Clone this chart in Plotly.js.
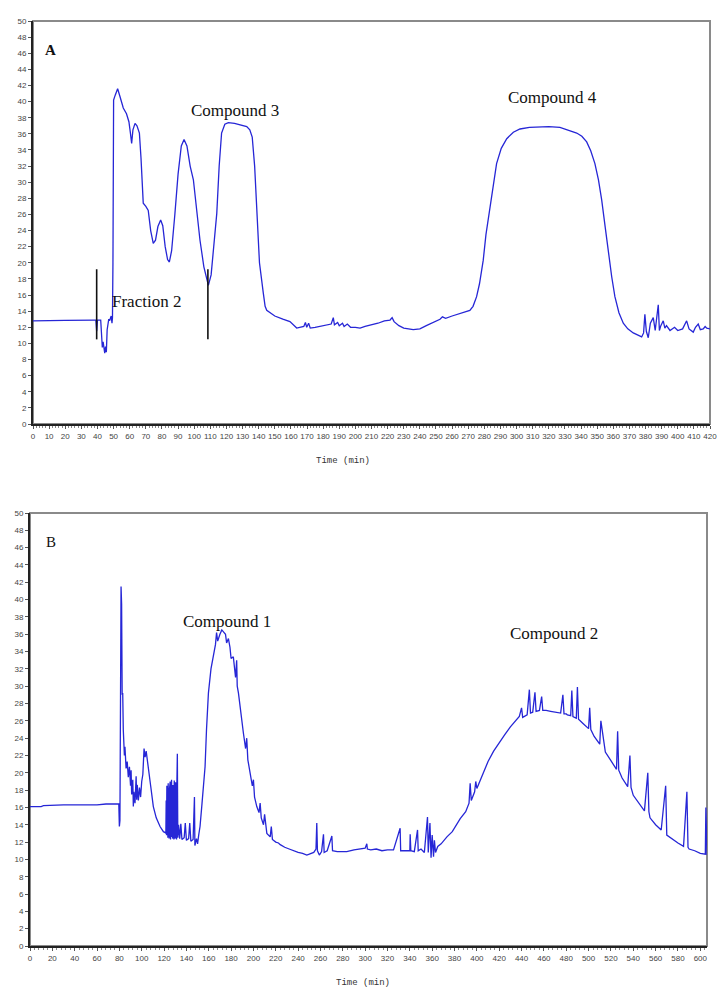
<!DOCTYPE html>
<html>
<head>
<meta charset="utf-8">
<script src="https://cdn.plot.ly/plotly-3.0.1.min.js"></script>
<style>
  body { margin: 0; background: #fff; }
  #graph { width: 728px; height: 998px; }
</style>
</head>
<body>
<div id="graph"></div>
<script>
//////////////////Data////////////////////////////////////////////////
// Panel A : fraction chromatogram, 0-420 min
var timeA = [0,18,20,38,39,39.5,40,42,42.5,43,43.5,44,44.5,45,45.5,46,46.5,47,47.5,48,48.5,49,49.3,49.6,49.8,
  50,51,52.5,54,56,58,59.5,60.5,61.2,62,63.3,64.5,66,67,68.4,70,71.5,73,74.6,76,77.5,79.2,80.5,82,83.5,84.6,
  86,88,90,92,93.7,95.5,97.5,99.5,101.5,103.6,106,108.8,110.5,112,114,115.5,117,119,121.2,125,129,132.6,134.5,
  136,137.5,138.8,140.5,142.9,144,145,147,150,155,159.4,163.6,166,168,169,169.8,171,172,175,180,183,185,186.3,
  187,189,190,192,193,195,197,200,202.9,206,210,214,218,221.5,222.8,224,227,230,235.9,240,244,248,252.5,254,
  256,260,265,269,271,273,275.2,277,279.3,281,283.5,285.5,287.6,290.5,293.9,298,302.1,308,314.5,320,326.9,332,
  337.3,340.5,343.5,346,348.6,350.8,352.8,355,356.9,359,361,363.5,366.2,369,372.4,375,377.6,378.8,379.6,380.5,
  381.7,383,384.8,386,387.9,388.6,389.5,391,392,393,395.2,398,400,403,405.5,407,409.6,411,412.7,414,415.8,417,418,420]
var signalA = [12.8,12.8,12.85,12.9,12.9,11.5,12.9,12.9,10.5,9.5,10.2,9.0,8.8,9.6,8.9,11.7,12.5,13.0,12.8,13.3,13.4,12.5,13.2,20,30,
  40.2,40.8,41.6,40.6,39.2,38.5,37.5,36,34.8,36.5,37.3,37.0,36.1,33,27.4,27.0,26.5,24,22.4,22.8,24.5,25.3,24.6,22,20.4,20.1,
  21.5,26,31,34.5,35.3,34.5,32,30.3,26.5,22.8,19.5,17.2,18.5,21.5,26.1,32,36.1,37.2,37.4,37.3,37.1,36.9,36.5,
  35.6,32,26.1,20,16.2,14.6,14.1,13.8,13.4,13.0,12.7,11.9,12.0,12.1,12.6,12.0,12.5,11.9,12.0,12.2,12.3,12.4,13.2,
  12.3,12.6,12.2,12.5,12.1,12.4,12.0,12.0,11.9,12.1,12.3,12.5,12.8,12.9,13.2,12.7,12.2,11.9,11.7,11.8,12.2,12.6,13.0,13.3,
  13.1,13.4,13.7,13.9,14.1,14.6,15.8,17.4,20.3,23.5,27,30,32.3,34.2,35.4,36.2,36.6,36.8,36.9,36.9,36.8,36.5,
  36.1,35.7,35.0,33.9,32.3,30.3,27.8,24.4,21.2,18.3,15.8,13.8,12.5,11.8,11.3,11.0,10.8,11.3,13.6,11.5,
  10.7,12.5,13.2,11.6,14.8,11.6,12.2,12.8,11.9,12.2,11.6,12.0,11.6,11.8,12.8,11.8,11.4,12.0,12.4,11.7,11.8,12.1,11.9,11.8]

// fraction cut marks in panel A
var cutTimes = [39.5, 108.5]
var cutLow = 10.5, cutHigh = 19.2

// Panel B : crude extract chromatogram, 0-606 min
var timeB = [0,10,12,30,60,68,79.5,80,80.5,81,81.5,82,82.5,83,83.5,84,84.5,85,86,87,88,89,90,90.5,91,92,92.5,93,94,95,
  95.5,96,97,98,99,100,101,102.1,103,104,106,108,110.4,113,116.4,119.4,
  121,121.3,121.6,121.9,122.2,122.5,122.8,123.1,123.4,123.7,124,124.3,124.6,124.9,125.2,125.5,125.8,126.1,126.4,126.7,
  127,127.3,127.6,127.9,128.2,128.5,128.8,129.1,129.4,129.7,130,130.3,130.6,130.9,131.2,131.5,131.9,132.3,
  133,134,135,136,138,139,140,142,143,
  144,146,147.2,147.6,149,150,151,152.2,154,156.7,158,159.7,162,164.2,166,167,168,170,171.7,173,175,176,177.6,179,
  180,182,184,185,185.5,186.6,189,191,193,194,195,197,199,200,201,203,205,206,207,209,210,212,215,216,217,220,222.4,
  224,228,232,236,240,244,247.8,250,254,256,256.7,257.3,259,261,262.7,263.3,266,270.2,270.8,275,280,283.6,290,295,
  300,301.5,302,305,310,315,320,325.4,331.3,331.8,335,340,340.3,340.9,344,346.9,347.5,350,353,355.8,356.5,358,359,
  360,361.2,362,363,365,368,373.2,378,381,385.1,390,393,394,395,398,399,400,405,410,415,420,425,430,435,438,440,
  441,445,447,448,450,452,453,456,458,459,462,466,470,475,477,478,480,481,484,485,486,489,490,491,495,500,501,502,
  505,510,511,515,520,525,526,527,530,535,537,538,540,545,550,553,554,555,560,565,569,570,575,580,585,588,589,590,
  595,600,604.5,605,606]
var signalB = [16.1,16.1,16.2,16.3,16.3,16.4,16.4,13.8,14.5,28,41.5,39.5,29,29.2,25,23.8,22.0,23.0,20.5,21.3,19.5,20.7,18.5,20.3,17.5,19.2,16.1,17.8,16.5,19.6,
  16.9,18.6,16.8,18.3,17.2,19.0,19.8,22.8,21.8,22.5,20.7,18.5,16.1,14.8,13.8,13.2,
  13.1,15,13,16.8,12.8,18.5,12.8,17.2,12.5,18.8,12.6,16.5,12.4,18.2,12.7,19,12.3,17.5,12.6,19.2,
  12.5,17.8,12.4,18.6,12.7,16.9,12.3,19.1,12.5,17.6,12.4,18.9,12.6,17.2,12.3,19.0,22.2,12.5,
  14,12.4,14.1,12.3,12.5,14.2,12.2,12.4,14.2,
  12.1,12.3,17.2,11.6,12.4,11.8,12.8,13.8,16.5,20.7,25,29.2,32,33.8,34.8,36.2,35.2,36,36.5,36.3,36.0,35,35.5,34.5,
  33.2,33.4,31,33,30,29.2,26.5,24.6,22.8,24,21.5,19.9,18.5,19.2,17.2,16.1,15.4,16.5,14.8,14.0,15.2,13.0,12.6,13.8,12.3,12.0,11.9,
  11.7,11.4,11.2,11.0,10.8,10.7,10.5,10.6,10.8,11.2,14.2,11.0,10.5,10.9,12.9,10.8,11.0,12.7,11.0,10.9,10.9,10.9,11.1,11.2,
  11.3,11.8,11.2,11.1,11.2,11.0,11.1,11.1,13.6,11.0,11.0,11.0,12.9,11.0,10.9,13.4,11.0,11.2,10.8,14.9,10.8,14.2,10.2,
  12.8,10.3,12.2,10.8,11.5,11.8,12.6,13.2,13.8,14.7,15.5,16.5,18.8,16.8,17.8,19,18.2,19.8,21.3,22.5,23.5,24.4,25.3,26,26.5,27.5,
  26.4,26.7,29.6,26.9,27.0,29.3,27.1,27.2,28.8,27.2,27.2,27.1,27.0,26.9,29.0,26.8,26.8,26.7,26.6,29.5,26.5,26.3,29.9,26.2,25.7,25.1,27.5,25.0,
  24.2,23.3,26.0,22.4,21.4,20.4,24.8,20.3,19.4,18.4,22.0,18.3,17.4,16.5,15.6,20.0,15.5,14.8,14.0,13.4,18.5,12.8,12.3,11.9,11.5,17.8,11.4,11.2,
  11.0,10.7,10.6,16.0,10.5]

// axis ticks / labels
var yTicks = [0,2,4,6,8,10,12,14,16,18,20,22,24,26,28,30,32,34,36,38,40,42,44,46,48,50]
var xStepA = 10, xStepB = 20
var xRangeA = [0, 420], xRangeB = [0, 606]

/////////Plotly Stuff///////////////////////////////////////////////////////////////
var W = 728, H = 998
var lineBlue = 'rgb(38,38,214)'

var trace_a = {
  x: timeA, y: signalA, xaxis: 'x', yaxis: 'y',
  mode: 'lines', line: {color: lineBlue, width: 1.3}, hoverinfo: 'skip'
}

var cutX = [], cutY = []
cutTimes.forEach(function(t){
  cutX.push(t, t, null)
  cutY.push(cutLow, cutHigh, null)
})
var trace_cut = {
  x: cutX, y: cutY, xaxis: 'x', yaxis: 'y',
  mode: 'lines', line: {color: '#111', width: 1.6}, hoverinfo: 'skip'
}

var trace_b = {
  x: timeB, y: signalB, xaxis: 'x2', yaxis: 'y2',
  mode: 'lines', line: {color: lineBlue, width: 1.3}, hoverinfo: 'skip'
}

var tickFont = {family: 'Liberation Sans, Arial, sans-serif', size: 8, color: '#444'}

function xAxis(dom, rng, step, yname) {
  return {
    domain: dom, range: rng, anchor: yname,
    tickmode: 'linear', tick0: 0, dtick: step,
    ticks: 'outside', ticklen: 3, tickcolor: '#555', tickwidth: 1,
    showline: true, linecolor: '#222', linewidth: 2,
    showgrid: false, zeroline: false,
    tickfont: tickFont,
    minor: {dtick: step / 5, ticks: 'outside', ticklen: 1.5, tickcolor: '#888', showgrid: false}
  }
}
function yAxis(dom, xname) {
  return {
    domain: dom, range: [0, 50], anchor: xname,
    tickmode: 'array', tickvals: yTicks,
    ticks: 'outside', ticklen: 3, tickcolor: '#555', tickwidth: 1,
    showline: true, linecolor: '#222', linewidth: 2,
    showgrid: false, zeroline: false,
    tickfont: tickFont
  }
}

var serif = 'Liberation Serif, Times New Roman, serif'
function label(text, px, py, size, bold) {
  return {
    text: bold ? '<b>' + text + '</b>' : text,
    xref: 'paper', yref: 'paper', x: px / W, y: 1 - py / H,
    xanchor: 'left', yanchor: 'middle', showarrow: false,
    font: {family: serif, size: size, color: '#111'}
  }
}
function axTitle(px, py) {
  return {
    text: 'Time (min)', xref: 'paper', yref: 'paper', x: px / W, y: 1 - py / H,
    xanchor: 'center', yanchor: 'middle', showarrow: false,
    font: {family: 'Liberation Mono, DejaVu Sans Mono, monospace', size: 9, color: '#333'}
  }
}

var layout = {
  width: W, height: H,
  margin: {l: 0, r: 0, t: 0, b: 0, pad: 0},
  showlegend: false,
  paper_bgcolor: '#fff', plot_bgcolor: '#fff',
  xaxis: xAxis([33 / W, 710 / W], xRangeA, xStepA, 'y'),
  yaxis: yAxis([574 / H, 977 / H], 'x'),
  xaxis2: xAxis([30 / W, 707 / W], xRangeB, xStepB, 'y2'),
  yaxis2: yAxis([52 / H, 485 / H], 'x2'),
  shapes: [
    {type: 'rect', xref: 'x domain', yref: 'y domain', x0: 0, x1: 1, y0: 0, y1: 1,
     line: {color: '#8a8a8a', width: 2}, layer: 'below'},
    {type: 'rect', xref: 'x2 domain', yref: 'y2 domain', x0: 0, x1: 1, y0: 0, y1: 1,
     line: {color: '#8a8a8a', width: 2}, layer: 'below'}
  ],
  annotations: [
    label('A', 43, 50, 15, true),
    label('Fraction 2', 110, 301, 17),
    label('Compound 3', 189, 110, 17),
    label('Compound 4', 506, 97, 17),
    axTitle(343, 461),
    label('B', 44, 542, 15, false),
    label('Compound 1', 181, 621, 17),
    label('Compound 2', 508, 633, 17),
    axTitle(363, 983)
  ]
}

Plotly.newPlot('graph', [trace_a, trace_cut, trace_b], layout, {displayModeBar: false, staticPlot: true})
</script>
</body>
</html>
